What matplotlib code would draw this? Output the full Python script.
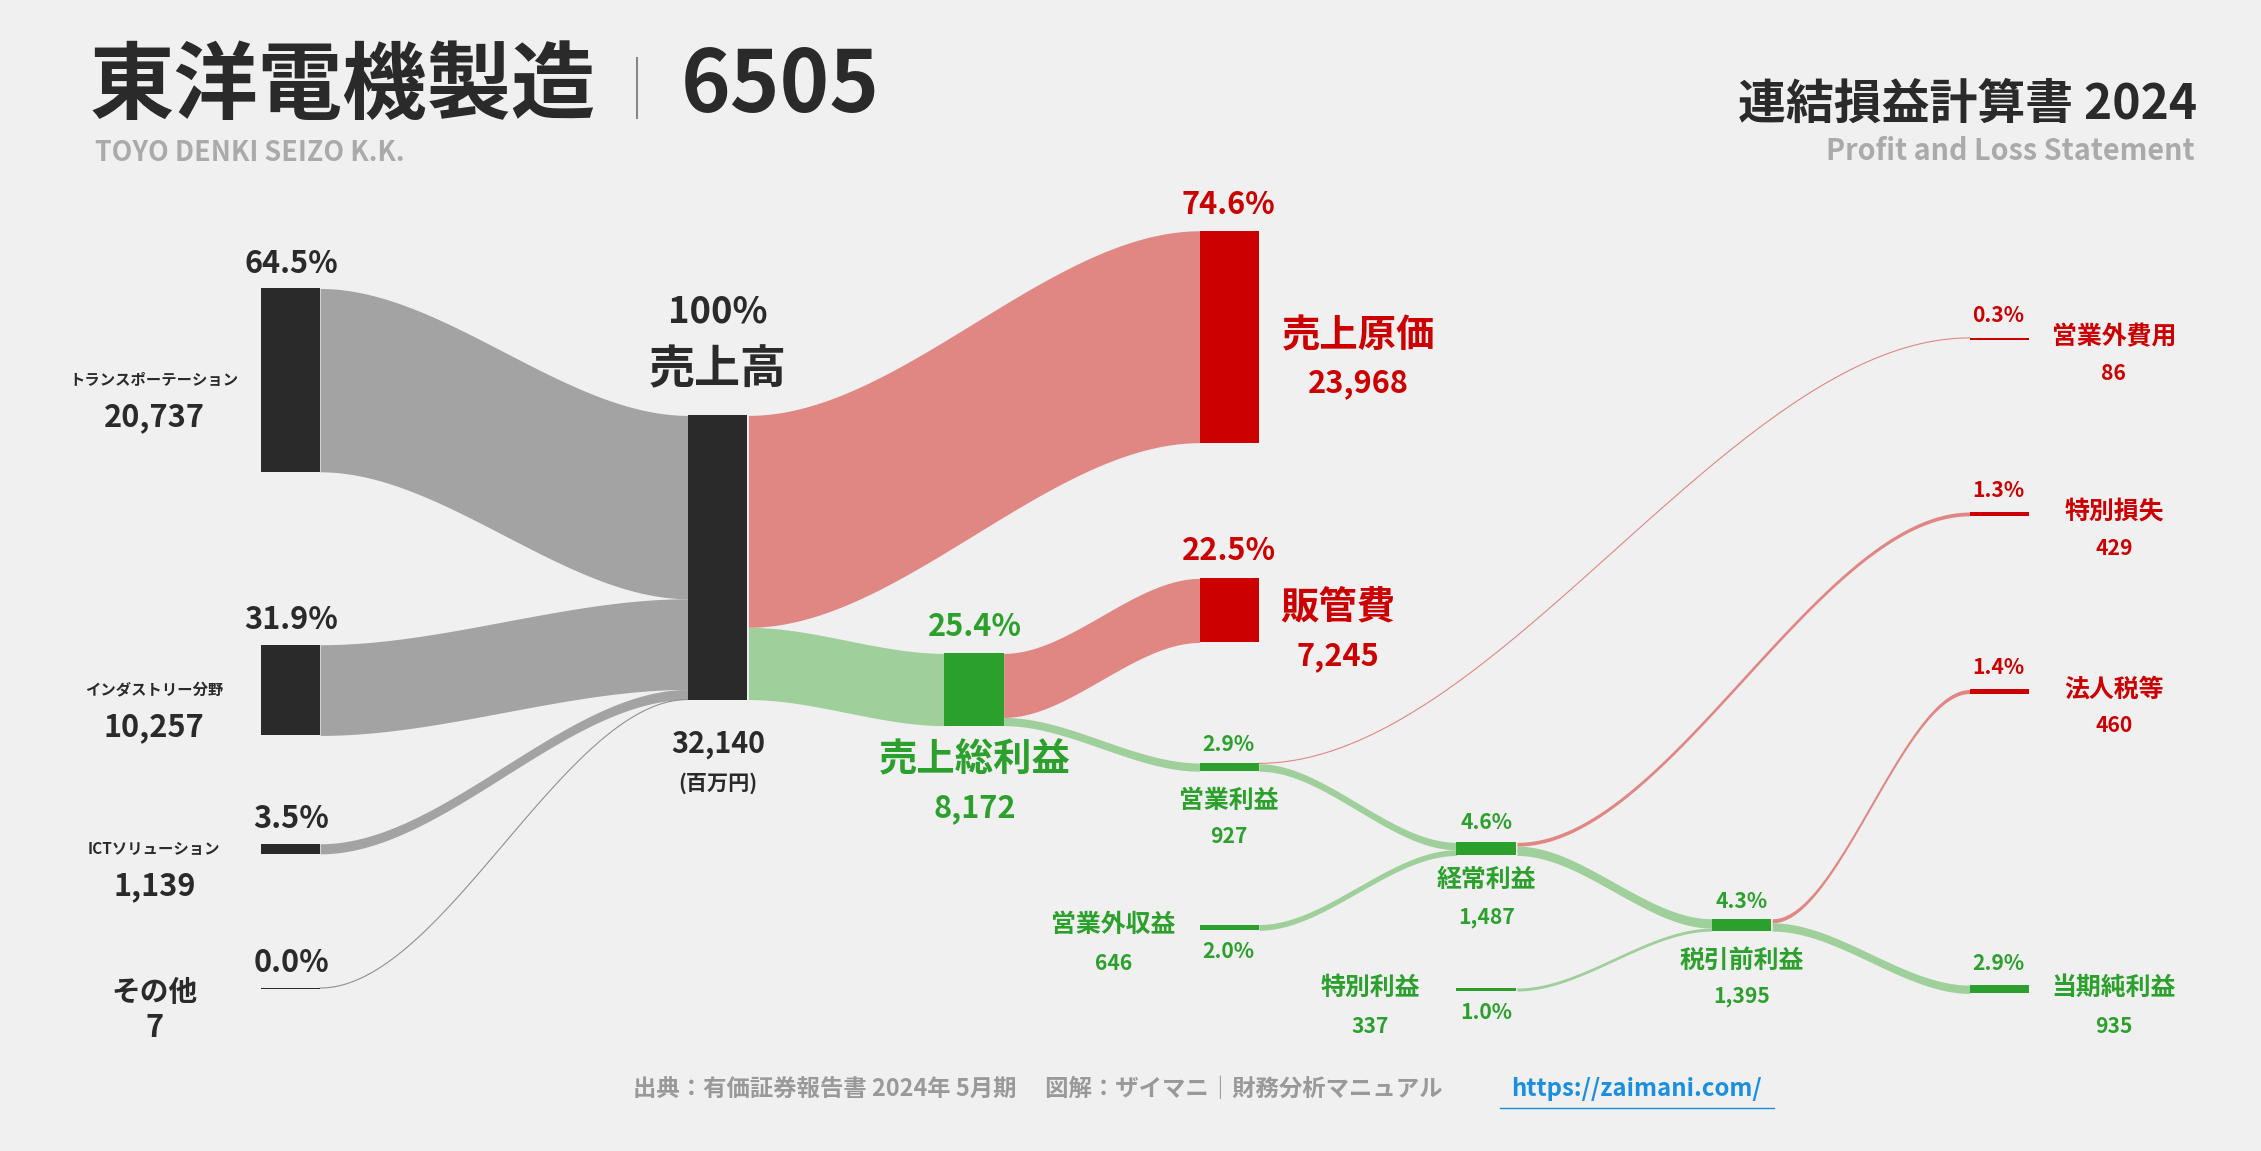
import matplotlib.pyplot as plt
import numpy as np

plt.rcParams['font.family'] = ['Noto Sans CJK JP', 'DejaVu Sans']

# values (million yen)
segments = ['トランスポーテーション', 'インダストリー分野', 'ICTソリューション', 'その他']
seg_values = [20737, 10257, 1139, 7]
seg_pct = ['64.5%', '31.9%', '3.5%', '0.0%']
revenue = 32140
cost, gross, sga = 23968, 8172, 7245
operating, nonop_inc, nonop_exp = 927, 646, 86
ordinary, sp_gain, sp_loss = 1487, 337, 429
pretax, tax, net = 1395, 460, 935

K = 197 / revenue  # px per unit (display coords)
BW = 41
DARK, RED, GREEN = '#2a2a2a', '#cc0000', '#2ca02c'
GREY_F, RED_F, GREEN_F = '#a3a3a3', '#e08784', '#9fcf9b'
S = 1.38  # font scale

fig = plt.figure(figsize=(22.61, 11.51), dpi=100, facecolor='#f0f0f0')
ax = fig.add_axes([0, 0, 1, 1])
ax.set_xlim(0, 1568)
ax.set_ylim(798, 0)
ax.axis('off')


def h(v):
    return v * K


def bar(x, top, v, color, minh=2.5):
    ax.add_patch(plt.Rectangle((x, top), BW, max(h(v), minh), color=color, lw=0, zorder=3))


def flow(x0, y0, x1, y1, v, color):
    t = np.linspace(0, 1, 100)
    s = 3 * t**2 - 2 * t**3
    xs = x0 + (x1 - x0) * t
    top = y0 + (y1 - y0) * s
    hh = h(v)
    if hh < 2:
        ax.plot(xs, top + hh / 2, color=color, lw=max(hh * 1.44, 0.8), zorder=2)
    else:
        ax.fill_between(xs, top, top + hh, color=color, lw=0, zorder=2)


# segments -> revenue
seg_tops = [200, 447, 585, 685]
rx, rtop = 477, 288
off = rtop
for v, tp in zip(seg_values, seg_tops):
    bar(181, tp, v, DARK, minh=1)
    flow(222, tp, rx, off, v, GREY_F if v > 100 else '#909090')
    off += h(v)
bar(rx, rtop, revenue, DARK)

# revenue -> cost, gross
flow(519, rtop, 832, 160, cost, RED_F)
bar(832, 160, cost, RED)
gtop = 453
flow(519, rtop + h(cost), 655, gtop, gross, GREEN_F)
bar(655, gtop, gross, GREEN)
flow(696, gtop, 832, 401, sga, RED_F)
bar(832, 401, sga, RED)
optop = 529
flow(696, gtop + h(sga), 832, optop, operating, GREEN_F)
bar(832, optop, operating, GREEN)

# operating -> ordinary
flow(873, optop, 1366, 234, nonop_exp, RED_F)
bar(1366, 234, nonop_exp, RED, minh=1.5)
ordtop = 584
flow(873, optop + h(nonop_exp), 1010, ordtop, operating - nonop_exp, GREEN_F)
bar(832, 641, nonop_inc, GREEN)
flow(873, 641, 1010, ordtop + h(operating - nonop_exp), nonop_inc, GREEN_F)
bar(1010, ordtop, ordinary, GREEN)

# ordinary -> pretax
flow(1052, ordtop, 1366, 355, sp_loss, RED_F)
bar(1366, 355, sp_loss, RED)
pttop = 637
flow(1052, ordtop + h(sp_loss), 1187, pttop, ordinary - sp_loss, GREEN_F)
bar(1010, 685, sp_gain, GREEN, minh=2)
flow(1052, 685, 1187, pttop + h(ordinary - sp_loss), sp_gain, GREEN_F)
bar(1187, pttop, pretax, GREEN)

# pretax -> net
flow(1229, pttop, 1366, 478, tax, RED_F)
bar(1366, 478, tax, RED)
flow(1229, pttop + h(tax), 1366, 683, net, GREEN_F)
bar(1366, 683, net, GREEN)


def txt(x, y, s, size, color=DARK, ha='center', weight='bold'):
    ax.text(x, y, s, fontsize=size * S, color=color, ha=ha, va='center', weight=weight)


# header
txt(62, 60, '東洋電機製造', 44, ha='left')
ax.plot([442, 442], [40, 82], color='#888888', lw=1.5)
txt(472, 60, '6505', 44, ha='left')
txt(66, 106, 'TOYO DENKI SEIZO K.K.', 14, color='#aaaaaa', ha='left')
txt(1524, 72, '連結損益計算書 2024', 25, ha='right')
txt(1522, 105, 'Profit and Loss Statement', 15, color='#aaaaaa', ha='right')

# segment labels
for name, v, p, tp in zip(segments, seg_values, seg_pct, seg_tops):
    txt(202, tp - 17, p, 16)
    cy = tp + max(h(v), 1) / 2
    if name == 'その他':
        txt(107, cy + 2, name, 15)
        txt(107, cy + 27, f'{v:,}', 16)
    else:
        txt(107, cy, name, 8)
        txt(107, cy + 26, f'{v:,}', 16)

txt(498, 216, '100%', 19)
txt(498, 256, '売上高', 24)
txt(498, 516, f'{revenue:,}', 15)
txt(498, 543, '(百万円)', 11)

txt(852, 142, '74.6%', 16, RED)
txt(942, 233, '売上原価', 20, RED)
txt(942, 266, f'{cost:,}', 16, RED)
txt(852, 382, '22.5%', 16, RED)
txt(928, 421, '販管費', 20, RED)
txt(928, 455, f'{sga:,}', 16, RED)
txt(676, 435, '25.4%', 16, GREEN)
txt(676, 527, '売上総利益', 20, GREEN)
txt(676, 560, f'{gross:,}', 16, GREEN)
txt(852, 516, '2.9%', 11, GREEN)
txt(852, 555, '営業利益', 13, GREEN)
txt(852, 580, f'{operating:,}', 11, GREEN)
txt(772, 641, '営業外収益', 13, GREEN)
txt(772, 668, f'{nonop_inc:,}', 11, GREEN)
txt(852, 660, '2.0%', 11, GREEN)
txt(1031, 570, '4.6%', 11, GREEN)
txt(1031, 610, '経常利益', 13, GREEN)
txt(1031, 636, f'{ordinary:,}', 11, GREEN)
txt(950, 685, '特別利益', 13, GREEN)
txt(950, 712, f'{sp_gain:,}', 11, GREEN)
txt(1031, 702, '1.0%', 11, GREEN)
txt(1208, 625, '4.3%', 11, GREEN)
txt(1208, 666, '税引前利益', 13, GREEN)
txt(1208, 691, f'{pretax:,}', 11, GREEN)
txt(1386, 668, '2.9%', 11, GREEN)
txt(1466, 685, '当期純利益', 13, GREEN)
txt(1466, 712, f'{net:,}', 11, GREEN)

for pct, name, v, tp in [('0.3%', '営業外費用', nonop_exp, 234), ('1.3%', '特別損失', sp_loss, 355),
                         ('1.4%', '法人税等', tax, 478)]:
    txt(1386, tp - 15, pct, 11, RED)
    txt(1466, tp, name, 13, RED)
    txt(1466, tp + 25, f'{v:,}', 11, RED)

# footer
txt(720, 755, '出典：有価証券報告書 2024年 5月期　 図解：ザイマニ｜財務分析マニュアル', 12.2, color='#999999')
txt(1135, 755, 'https://zaimani.com/', 12.5, color='#1a8fe0')
ax.plot([1040, 1230], [768, 768], color='#1a8fe0', lw=1)

fig.savefig('out.png', dpi=100, facecolor=fig.get_facecolor())
